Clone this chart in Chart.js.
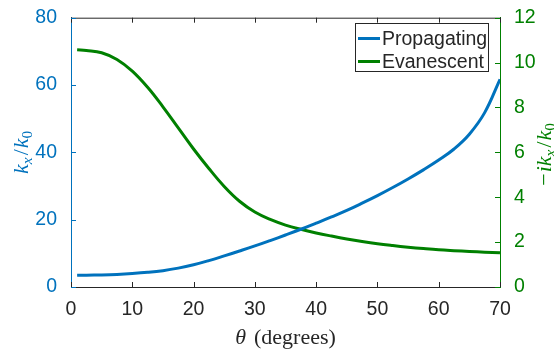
<!DOCTYPE html>
<html>
<head>
<meta charset="utf-8">
<script src="https://cdn.jsdelivr.net/npm/chart.js@4.4.1/dist/chart.umd.min.js"></script>
<style>
  html, body { margin: 0; padding: 0; background: #ffffff; }
  #wrap { width: 554px; height: 354px; }
</style>
</head>
<body>
<div id="wrap"><canvas id="c" width="554" height="354"></canvas></div>
<script>
// Incidence angle in degrees
const theta = [1, 2.5, 5, 7.5, 10, 12.5, 15, 17.5, 20, 22.5, 25, 27.5, 30, 32.5, 35,
  37.5, 40, 42.5, 45, 47.5, 50, 52.5, 55, 57.5, 60, 62.5, 65, 67.5, 70];
// Propagating branch, k_x / k_0 (left axis)
const propagating = [3.5, 3.52, 3.6, 3.75, 4.0, 4.35, 4.85, 5.6, 6.6, 7.85, 9.25, 10.7, 12.2, 13.8, 15.45,
  17.15, 18.95, 20.8, 22.75, 24.9, 27.15, 29.55, 32.1, 34.8, 37.7, 41.0, 45.4, 51.8, 61.7];
// Evanescent branch, -i k_x / k_0 (right axis)
const evanescent = [10.57, 10.54, 10.44, 10.14, 9.62, 8.90, 8.03, 7.09, 6.15, 5.28, 4.48, 3.82, 3.34, 3.01, 2.76,
  2.57, 2.41, 2.27, 2.14, 2.025, 1.925, 1.845, 1.775, 1.713, 1.658, 1.618, 1.583, 1.553, 1.528];
const seriesNames = ['Propagating', 'Evanescent'];
const xTicks = [0, 10, 20, 30, 40, 50, 60, 70];
const leftTicks = [0, 20, 40, 60, 80];
const rightTicks = [0, 2, 4, 6, 8, 10, 12];

const BLUE = '#0072BD';
const GREEN = '#008000';
const DARK = '#262626';
const tickFont = { family: '"Liberation Sans", Arial, sans-serif', size: 19.5 };
const mathFamily = '"Liberation Serif", "DejaVu Serif", serif';

// Width of a run of math-style text segments
function richWidth(ctx, segs, size) {
  let w = 0;
  for (const s of segs) {
    const fs = s.sub ? size * 0.7 : size;
    ctx.font = (s.it ? 'italic ' : '') + fs + 'px ' + mathFamily;
    w += ctx.measureText(s.t).width + (s.gap || 0);
  }
  return w;
}
// Draw the run centred on (cx, cy), optionally rotated
function drawRich(ctx, segs, size, cx, cy, angle, color) {
  ctx.save();
  ctx.translate(cx, cy);
  ctx.rotate(angle);
  ctx.fillStyle = color;
  ctx.textBaseline = 'alphabetic';
  ctx.textAlign = 'left';
  const total = richWidth(ctx, segs, size);
  let x = -total / 2;
  const base = size * 0.35;
  for (const s of segs) {
    const fs = s.sub ? size * 0.7 : size;
    ctx.font = (s.it ? 'italic ' : '') + fs + 'px ' + mathFamily;
    ctx.fillText(s.t, x, base + (s.sub ? size * 0.2 : 0));
    x += ctx.measureText(s.t).width + (s.gap || 0);
  }
  ctx.restore();
}

const framePlugin = {
  id: 'frame',
  afterDraw(chart) {
    const { ctx, chartArea: a, scales } = chart;
    const xs = scales.x, yl = scales.yL, yr = scales.yR;
    ctx.save();
    ctx.lineWidth = 1;
    // top edge of the box
    ctx.strokeStyle = DARK;
    ctx.beginPath();
    ctx.moveTo(a.left, a.top + 0.5);
    ctx.lineTo(a.right, a.top + 0.5);
    ctx.stroke();
    // inward tick marks, bottom and top
    const tl = 5;
    ctx.beginPath();
    for (const v of xTicks) {
      const px = Math.round(xs.getPixelForValue(v)) + 0.5;
      ctx.moveTo(px, a.bottom); ctx.lineTo(px, a.bottom - tl);
      ctx.moveTo(px, a.top); ctx.lineTo(px, a.top + tl);
    }
    ctx.stroke();
    // inward ticks on the left axis
    ctx.strokeStyle = BLUE;
    ctx.beginPath();
    for (const v of leftTicks) {
      const py = Math.round(yl.getPixelForValue(v)) + 0.5;
      ctx.moveTo(a.left, py); ctx.lineTo(a.left + tl, py);
    }
    ctx.stroke();
    // inward ticks on the right axis
    ctx.strokeStyle = GREEN;
    ctx.beginPath();
    for (const v of rightTicks) {
      const py = Math.round(yr.getPixelForValue(v)) + 0.5;
      ctx.moveTo(a.right, py); ctx.lineTo(a.right - tl, py);
    }
    ctx.stroke();

    // axis titles
    const midY = (a.top + a.bottom) / 2;
    drawRich(ctx, [{ t: 'k', it: true }, { t: 'x', it: true, sub: true, gap: 2 }, { t: '/', gap: 1 },
      { t: 'k', it: true }, { t: '0', sub: true }], 22, 20, midY, -Math.PI / 2, BLUE);
    drawRich(ctx, [{ t: '\u2212', gap: 1 }, { t: 'i', it: true }, { t: 'k', it: true }, { t: 'x', it: true, sub: true, gap: 2 },
      { t: '/', gap: 1 }, { t: 'k', it: true }, { t: '0', sub: true }], 22, 543, midY + 2, -Math.PI / 2, GREEN);
    drawRich(ctx, [{ t: '\u03B8', it: true, gap: 8 }, { t: '(degrees)' }], 22, (a.left + a.right) / 2, 336, 0, DARK);

    // legend box
    const lx = 355, ly = 23, lw = 133, lh = 48;
    ctx.fillStyle = '#ffffff';
    ctx.fillRect(lx, ly, lw, lh);
    ctx.lineWidth = 1;
    ctx.strokeStyle = DARK;
    ctx.strokeRect(lx + 0.5, ly + 0.5, lw, lh);
    const rows = [[seriesNames[0], BLUE, 38.5], [seriesNames[1], GREEN, 61.5]];
    ctx.font = '19.5px ' + tickFont.family;
    ctx.textBaseline = 'middle';
    ctx.textAlign = 'left';
    for (const [name, col, y] of rows) {
      ctx.strokeStyle = col;
      ctx.lineWidth = 3;
      ctx.beginPath();
      ctx.moveTo(358, y); ctx.lineTo(380, y);
      ctx.stroke();
      ctx.fillStyle = DARK;
      ctx.fillText(name, 382, y + 1);
    }
    ctx.restore();
  }
};

new Chart(document.getElementById('c'), {
  type: 'line',
  data: {
    datasets: [
      { label: seriesNames[0], data: theta.map((t, i) => ({ x: t, y: propagating[i] })),
        borderColor: BLUE, borderWidth: 3, pointRadius: 0, yAxisID: 'yL',
        tension: 0.4, fill: false },
      { label: seriesNames[1], data: theta.map((t, i) => ({ x: t, y: evanescent[i] })),
        borderColor: GREEN, borderWidth: 3, pointRadius: 0, yAxisID: 'yR',
        tension: 0.4, fill: false }
    ]
  },
  options: {
    responsive: false,
    animation: false,
    layout: { padding: { top: 13, left: 0, right: 0, bottom: 0 } },
    plugins: { legend: { display: false }, tooltip: { enabled: false } },
    scales: {
      x: {
        type: 'linear', min: 0, max: 70,
        afterBuildTicks: s => { s.ticks = xTicks.map(v => ({ value: v })); },
        afterFit: s => { s.height = 67; },
        grid: { display: false },
        border: { display: true, color: DARK, width: 1 },
        ticks: { color: DARK, font: tickFont, padding: 3, maxRotation: 0 }
      },
      yL: {
        type: 'linear', position: 'left', min: 0, max: 80,
        afterBuildTicks: s => { s.ticks = leftTicks.map(v => ({ value: v })); },
        afterFit: s => { s.width = 71; },
        grid: { display: false },
        border: { display: true, color: BLUE, width: 1 },
        ticks: { color: BLUE, font: tickFont, padding: 6 }
      },
      yR: {
        type: 'linear', position: 'right', min: 0, max: 12,
        afterBuildTicks: s => { s.ticks = rightTicks.map(v => ({ value: v })); },
        afterFit: s => { s.width = 54; },
        grid: { display: false },
        border: { display: true, color: GREEN, width: 1 },
        ticks: { color: GREEN, font: tickFont, padding: 6 }
      }
    }
  },
  plugins: [framePlugin]
});
</script>
</body>
</html>
